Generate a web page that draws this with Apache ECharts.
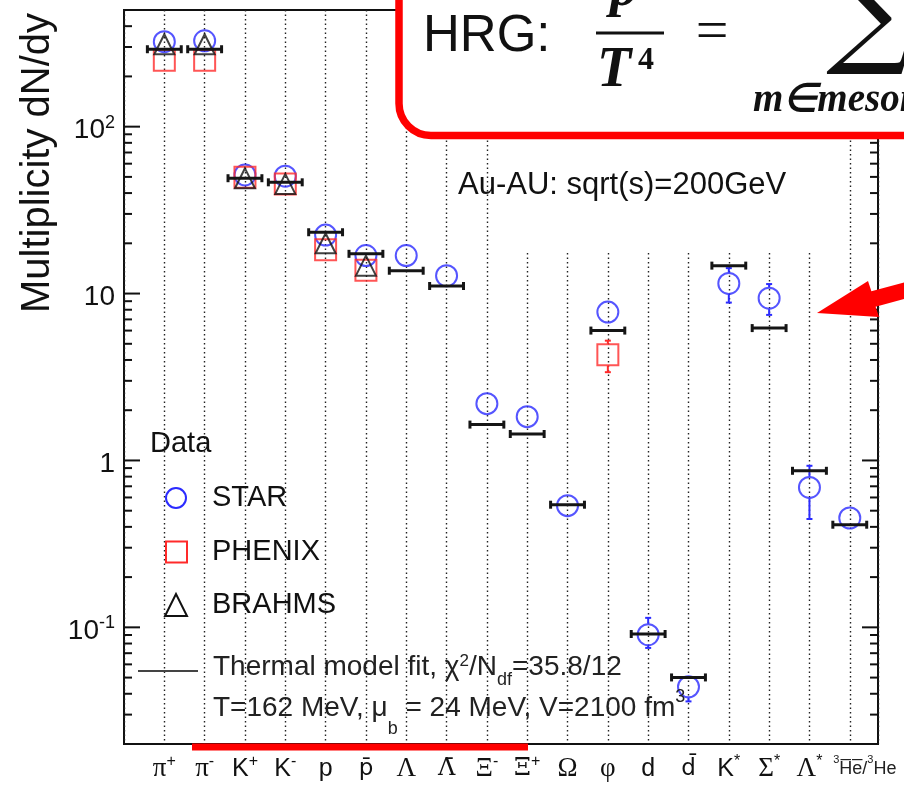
<!DOCTYPE html>
<html>
<head>
<meta charset="utf-8">
<script src="https://cdn.jsdelivr.net/npm/echarts@6/dist/echarts.min.js"></script>
<style>
  html, body { margin: 0; padding: 0; background: #fff; }
  #chart { width: 904px; height: 788px; }
</style>
</head>
<body>
<div id="chart"></div>
<script>
// Particle species along the x axis (rich-text labels)
const particleLabels = [
  '{g|π}{u|+}', '{g|π}{u|-}', '{r|K}{u|+}', '{r|K}{u|-}', '{r|p}', '{rb|p\u0304}',
  '{g|Λ}', '{gb|Λ\u0304}', '{g|Ξ}{u|-}', '{gb|Ξ\u0304}{u|+}', '{g|Ω}', '{g|φ}',
  '{r|d}', '{rb|d\u0304}', '{r|K}{u|*}', '{g|Σ}{u|*}', '{g|Λ}{u|*}',
  '{hp|3}{h|H\u0305e\u0305/}{hs|3}{h|He}'
];

// Measured mid-rapidity yields, Au+Au at 200 GeV
const starYield   = [323, 327, 51.4, 50.5, 22.4, 16.9, 16.9, 12.8, 2.19, 1.83, 0.536, 7.74, 0.0904, 0.044, 11.5, 9.38, 0.689, 0.452];
const starLow     = [null, null, null, null, null, null, null, null, null, null, null, null, 0.0753, 0.036, 8.83, 7.45, 0.446, null];
const starHigh    = [null, null, null, null, null, null, null, null, null, null, null, null, 0.114, 0.050, 14.2, 11.4, 0.929, null];
const phenixYield = [250, 250, 49.7, 45.4, 18.3, 13.8, null, null, null, null, null, 4.30, null, null, null, null, null, null];
const phenixLow   = [null, null, null, null, null, null, null, null, null, null, null, 3.38, null, null, null, null, null, null];
const phenixHigh  = [null, null, null, null, null, null, null, null, null, null, null, 5.22, null, null, null, null, null, null];
const brahmsYield = [312, 312, 49.0, 45.4, 20.0, 14.7, null, null, null, null, null, null, null, null, null, null, null, null];

// Thermal (statistical hadronization) model fit
const fitYield    = [291, 291, 49.1, 46.4, 23.3, 17.3, 13.7, 11.1, 1.64, 1.44, 0.543, 6.0, 0.0912, 0.0501, 14.7, 6.21, 0.867, 0.412];

// Log-axis ticks
const majorTicks = [0.1, 1, 10, 100];
const minorTicks = [0.02, 0.03, 0.04, 0.05, 0.06, 0.07, 0.08, 0.09,
                    0.2, 0.3, 0.4, 0.5, 0.6, 0.7, 0.8, 0.9,
                    2, 3, 4, 5, 6, 7, 8, 9,
                    20, 30, 40, 50, 60, 70, 80, 90,
                    200, 300, 400, 500];
const yTickLabels = { '-1': '{n|10}{s|-1}', '0': '{n|1}', '1': '{n|10}', '2': '{n|10}{s|2}' };

const SANS = 'Liberation Sans';
const SERIF = 'Liberation Serif';
const BLUE = '#2b2bff';
const RED = '#ff2a2a';
const X_MIN = -1, X_MAX = 17.7;

function points(arr) {
  return arr.map((v, i) => [i, v]).filter(d => d[1] != null);
}
function errPoints(c, lo, hi) {
  return c.map((v, i) => [i, v, lo[i], hi[i]]).filter(d => d[2] != null);
}

// vertical error bar with caps, skipping the inside of the marker
function errorBar(color, gap) {
  return function (params, api) {
    const x = api.value(0);
    const c = api.coord([x, api.value(1)]);
    const lo = api.coord([x, api.value(2)]);
    const hi = api.coord([x, api.value(3)]);
    const st = { stroke: color, lineWidth: 2 };
    const kids = [];
    if (hi[1] < c[1] - gap) kids.push({ type: 'line', shape: { x1: c[0], y1: hi[1], x2: c[0], y2: c[1] - gap }, style: st });
    if (lo[1] > c[1] + gap) kids.push({ type: 'line', shape: { x1: c[0], y1: c[1] + gap, x2: c[0], y2: lo[1] }, style: st });
    kids.push({ type: 'line', shape: { x1: c[0] - 3, y1: hi[1], x2: c[0] + 3, y2: hi[1] }, style: st });
    kids.push({ type: 'line', shape: { x1: c[0] - 3, y1: lo[1], x2: c[0] + 3, y2: lo[1] }, style: st });
    return { type: 'group', children: kids };
  };
}

// horizontal model bar with end caps
function fitBar(params, api) {
  const x = api.value(0), v = api.value(1);
  const a = api.coord([x - 0.42, v]);
  const b = api.coord([x + 0.42, v]);
  const st = { stroke: '#151515', lineWidth: 3 };
  return {
    type: 'group', children: [
      { type: 'line', shape: { x1: a[0], y1: a[1], x2: b[0], y2: b[1] }, style: st },
      { type: 'line', shape: { x1: a[0], y1: a[1] - 4, x2: a[0], y2: a[1] + 4 }, style: st },
      { type: 'line', shape: { x1: b[0], y1: b[1] - 4, x2: b[0], y2: b[1] + 4 }, style: st }
    ]
  };
}

// inward ticks on the left and right frame
function frameTick(params, api) {
  const v = api.value(0), len = api.value(1);
  const l = api.coord([X_MIN, v]);
  const r = api.coord([X_MAX, v]);
  const st = { stroke: '#111', lineWidth: 2 };
  return {
    type: 'group', children: [
      { type: 'line', shape: { x1: l[0], y1: l[1], x2: l[0] + len, y2: l[1] }, style: st },
      { type: 'line', shape: { x1: r[0] - len, y1: r[1], x2: r[0], y2: r[1] }, style: st }
    ]
  };
}
const tickData = majorTicks.map(v => [v, 16]).concat(minorTicks.map(v => [v, 8]));

const hollow = (color) => ({ color: 'rgba(0,0,0,0)', borderColor: color, borderWidth: 2 });

const txt = (opts) => Object.assign({ fontFamily: SANS, fill: '#111' }, opts);

const chart = echarts.init(document.getElementById('chart'), null, { renderer: 'canvas' });
chart.setOption({
  animation: false,
  backgroundColor: '#fff',
  grid: { left: 124, right: 26, top: 10, bottom: 44, outerBoundsMode: 'none', containLabel: false,
          show: true, borderColor: '#111', borderWidth: 2, backgroundColor: 'transparent' },
  xAxis: {
    type: 'value', min: X_MIN, max: X_MAX, interval: 1,
    axisLine: { show: false }, axisTick: { show: false },
    splitLine: { show: true, lineStyle: { color: '#222', width: 1.4, type: [1.5, 3] } },
    axisLabel: {
      margin: 10, showMinLabel: true, showMaxLabel: true, color: '#111', hideOverlap: false,
      formatter: function (v) {
        const i = Math.round(v);
        if (Math.abs(v - i) > 1e-6 || i < 0 || i >= particleLabels.length) return '';
        return particleLabels[i];
      },
      rich: {
        r: { fontFamily: SANS, fontSize: 25, color: '#111', lineHeight: 30 },
        rb: { fontFamily: 'DejaVu Sans', fontSize: 23, color: '#111', lineHeight: 30 },
        g: { fontFamily: SERIF, fontSize: 27, color: '#111', lineHeight: 30 },
        gb: { fontFamily: 'DejaVu Serif', fontSize: 24, color: '#111', lineHeight: 30 },
        u: { fontFamily: SANS, fontSize: 16, color: '#111', lineHeight: 18, verticalAlign: 'top' },
        h: { fontFamily: SANS, fontSize: 18, color: '#222', lineHeight: 30 },
        hp: { fontFamily: SANS, fontSize: 11, color: '#222', lineHeight: 16, verticalAlign: 'top', padding: [0, 0, 0, 30] },
        hs: { fontFamily: SANS, fontSize: 11, color: '#222', lineHeight: 16, verticalAlign: 'top' }
      }
    }
  },
  yAxis: {
    type: 'log', logBase: 10, min: 0.02, max: 500,
    axisLine: { show: false }, axisTick: { show: false }, splitLine: { show: false },
    axisLabel: {
      margin: 9, color: '#111', padding: [8, 0, 0, 0],
      formatter: function (v) {
        const k = Math.round(Math.log10(v));
        if (Math.abs(Math.log10(v) - k) > 1e-6) return '';
        return yTickLabels[String(k)] || '';
      },
      rich: {
        n: { fontFamily: SANS, fontSize: 28, color: '#111', lineHeight: 34 },
        s: { fontFamily: SANS, fontSize: 18, color: '#111', lineHeight: 18, verticalAlign: 'top' }
      }
    }
  },
  series: [
    { type: 'custom', name: 'STAR err', renderItem: errorBar(BLUE, 11), data: errPoints(starYield, starLow, starHigh), z: 3, silent: true },
    { type: 'scatter', name: 'STAR', data: points(starYield), symbol: 'circle', symbolSize: 21, itemStyle: hollow(BLUE), z: 4, silent: true },
    { type: 'custom', name: 'PHENIX err', renderItem: errorBar(RED, 11), data: errPoints(phenixYield, phenixLow, phenixHigh), z: 3, silent: true },
    { type: 'scatter', name: 'PHENIX', data: points(phenixYield), symbol: 'rect', symbolSize: 21, itemStyle: hollow(RED), z: 4, silent: true },
    { type: 'scatter', name: 'BRAHMS', data: points(brahmsYield), symbol: 'triangle', symbolSize: [20, 20], itemStyle: hollow('#111'), z: 5, silent: true },
    { type: 'custom', name: 'Thermal fit', renderItem: fitBar, data: points(fitYield), z: 6, silent: true },
    { type: 'custom', name: 'ticks', renderItem: frameTick, data: tickData, z: 7, silent: true }
  ],
  graphic: [
    // blank panel behind the energy label
    { type: 'rect', z: 1, silent: true, shape: { x: 500, y: 130, width: 335, height: 122 }, style: { fill: '#fff' } },
    { type: 'text', z: 50, style: txt({ text: 'Au-AU: sqrt(s)=200GeV', x: 458, y: 185, fontSize: 31, verticalAlign: 'middle', textVerticalAlign: 'middle' }) },
    // y axis title
    { type: 'text', z: 50, x: 38, y: 163, rotation: Math.PI / 2,
      style: txt({ text: 'Multiplicity dN/dy', fontSize: 40, align: 'center', textAlign: 'center', verticalAlign: 'middle', textVerticalAlign: 'middle' }) },
    // legend
    { type: 'text', z: 50, style: txt({ text: 'Data', x: 150, y: 444, fontSize: 29, verticalAlign: 'middle', textVerticalAlign: 'middle' }) },
    { type: 'circle', z: 50, shape: { cx: 176, cy: 498, r: 10 }, style: { fill: 'none', stroke: BLUE, lineWidth: 2 } },
    { type: 'text', z: 50, style: txt({ text: 'STAR', x: 212, y: 498, fontSize: 29, verticalAlign: 'middle', textVerticalAlign: 'middle' }) },
    { type: 'rect', z: 50, shape: { x: 166, y: 541.5, width: 21, height: 21 }, style: { fill: 'none', stroke: RED, lineWidth: 2 } },
    { type: 'text', z: 50, style: txt({ text: 'PHENIX', x: 212, y: 552, fontSize: 29, verticalAlign: 'middle', textVerticalAlign: 'middle' }) },
    { type: 'polygon', z: 50, shape: { points: [[176, 594], [165, 616], [187, 616]] }, style: { fill: 'none', stroke: '#111', lineWidth: 2 } },
    { type: 'text', z: 50, style: txt({ text: 'BRAHMS', x: 212, y: 605, fontSize: 29, verticalAlign: 'middle', textVerticalAlign: 'middle' }) },
    { type: 'line', z: 50, shape: { x1: 138, y1: 671, x2: 198, y2: 671 }, style: { stroke: '#444', lineWidth: 2 } },
    { type: 'text', z: 50, style: txt({
        text: 'Thermal model fit, χ{sp|2}/N{sb|df}=35.8/12', x: 213, y: 667, fontSize: 28, lineHeight: 44,
        verticalAlign: 'middle', textVerticalAlign: 'middle', fill: '#222',
        rich: { sp: { fontFamily: SANS, fontSize: 17, lineHeight: 17, verticalAlign: 'top', padding: [8, 0, 0, 0], fill: '#222', color: '#222' },
                sb: { fontFamily: SANS, fontSize: 18, lineHeight: 18, verticalAlign: 'bottom', fill: '#222', color: '#222' } } }) },
    { type: 'text', z: 50, style: txt({
        text: 'T=162 MeV, μ{sb|b} = 24 MeV, V=2100 fm{sp|3}', x: 213, y: 708, fontSize: 28, lineHeight: 60,
        verticalAlign: 'middle', textVerticalAlign: 'middle', fill: '#222',
        rich: { sp: { fontFamily: SANS, fontSize: 18, lineHeight: 18, verticalAlign: 'top', padding: [10, 0, 0, 0], fill: '#222', color: '#222' },
                sb: { fontFamily: SANS, fontSize: 18, lineHeight: 18, verticalAlign: 'bottom', fill: '#222', color: '#222' } } }) },
    // red underline below the light-flavour species
    { type: 'rect', z: 100, shape: { x: 192, y: 743.5, width: 336, height: 7 }, style: { fill: '#ff0000' } },
    // HRG formula box
    { type: 'rect', z: 100, shape: { x: 399, y: -60, width: 600, height: 195.5, r: 32 }, style: { fill: '#fff', stroke: '#ff0000', lineWidth: 7.5 } },
    { type: 'text', z: 101, style: txt({ text: 'HRG:', x: 423, y: 37, fontSize: 51, verticalAlign: 'middle', textVerticalAlign: 'middle' }) },
    { type: 'text', z: 101, style: txt({ text: 'p', x: 624, y: -9, fontFamily: SERIF, fontSize: 56, fontStyle: 'italic', fontWeight: 'bold', align: 'center', textAlign: 'center', verticalAlign: 'middle', textVerticalAlign: 'middle' }) },
    { type: 'line', z: 101, shape: { x1: 596, y1: 33, x2: 664, y2: 33 }, style: { stroke: '#111', lineWidth: 3 } },
    { type: 'text', z: 101, style: txt({ text: 'T', x: 597, y: 72, fontFamily: SERIF, fontSize: 56, fontStyle: 'italic', fontWeight: 'bold', verticalAlign: 'middle', textVerticalAlign: 'middle' }) },
    { type: 'text', z: 101, style: txt({ text: '4', x: 638, y: 61, fontFamily: SERIF, fontSize: 32, fontWeight: 'bold', verticalAlign: 'middle', textVerticalAlign: 'middle' }) },
    { type: 'text', z: 101, style: txt({ text: '=', x: 712, y: 34, fontFamily: SERIF, fontSize: 58, align: 'center', textAlign: 'center', verticalAlign: 'middle', textVerticalAlign: 'middle' }) },
    { type: 'text', z: 101, style: txt({ text: '∑', x: 826, y: 20, fontFamily: 'DejaVu Serif', fontSize: 120, verticalAlign: 'middle', textVerticalAlign: 'middle' }) },
    { type: 'text', z: 101, style: txt({ text: 'm∈mesons', x: 753, y: 101, fontFamily: SERIF, fontSize: 39, fontStyle: 'italic', fontWeight: 'bold', verticalAlign: 'middle', textVerticalAlign: 'middle' }) },
    // pointer arrow
    { type: 'polygon', z: 100, shape: { points: [[817, 313], [868, 281], [871.4, 291.3], [929.4, 275.8], [933.6, 291.2], [875.6, 306.7], [879, 317]] }, style: { fill: '#ff0000' } }
  ]
});
</script>
</body>
</html>
